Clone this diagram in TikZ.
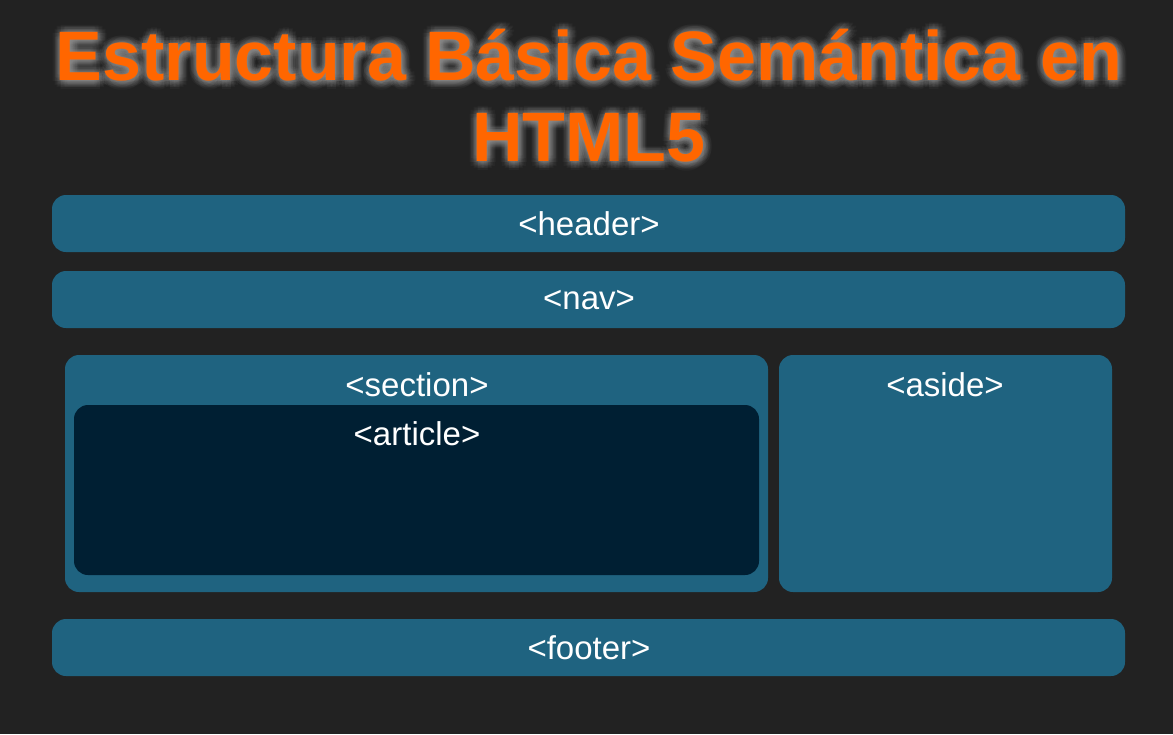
\documentclass[tikz,border=0pt]{standalone}
\usepackage{fontspec}
\setmainfont{Liberation Sans}
\usetikzlibrary{calc}
\definecolor{bgc}{HTML}{222222}
\definecolor{boxc}{HTML}{1F6380}
\definecolor{artc}{HTML}{001F33}
\definecolor{orangec}{HTML}{FF6600}
\begin{document}
\begin{tikzpicture}[x=1pt,y=-1pt,
  blk/.style={fill=boxc,draw=none,rounded corners=14pt,inner sep=0pt},
  artblk/.style={fill=artc,draw=none,rounded corners=14pt,inner sep=0pt},
  lbl/.style={text=white,font=\fontsize{33}{38}\selectfont,inner sep=0pt},
  ttl/.style={font=\fontsize{70}{80}\selectfont\bfseries,inner sep=0pt,anchor=base},
  glow/.style={ttl,text=gray!70,opacity=0.05}]
\fill[bgc] (0,0) rectangle (1173,734);
\useasboundingbox (0,0) rectangle (1173,734);
% title glow
\foreach \r in {2,4,6,8}{
  \foreach \a in {0,30,...,330}{
    \node[glow] at ($(590,81)+(\a:\r)$) {Estructura Básica Semántica en};
    \node[glow] at ($(590,162)+(\a:\r)$) {HTML5};
  }
}
\node[ttl,text=orangec] (t1) at (589,80) {Estructura Básica Semántica en};
\node[ttl,text=orangec] (t2) at (589,161) {HTML5};
% boxes
\path[blk] (52,195) rectangle (1125,252);
\node[lbl] (header) at (589,224) {<header>};
\path[blk] (52,271) rectangle (1125,328);
\node[lbl] (nav) at (589,300) {<nav>};
\path[blk] (65,355) rectangle (768,592);
\node[lbl] (section) at (417,385) {<section>};
\path[artblk] (74,405) rectangle (759,575);
\node[lbl] (article) at (417,434) {<article>};
\path[blk] (779,355) rectangle (1112,592);
\node[lbl] (aside) at (945,385) {<aside>};
\path[blk] (52,619) rectangle (1125,676);
\node[lbl] (footer) at (589,648) {<footer>};
\end{tikzpicture}
\end{document}
